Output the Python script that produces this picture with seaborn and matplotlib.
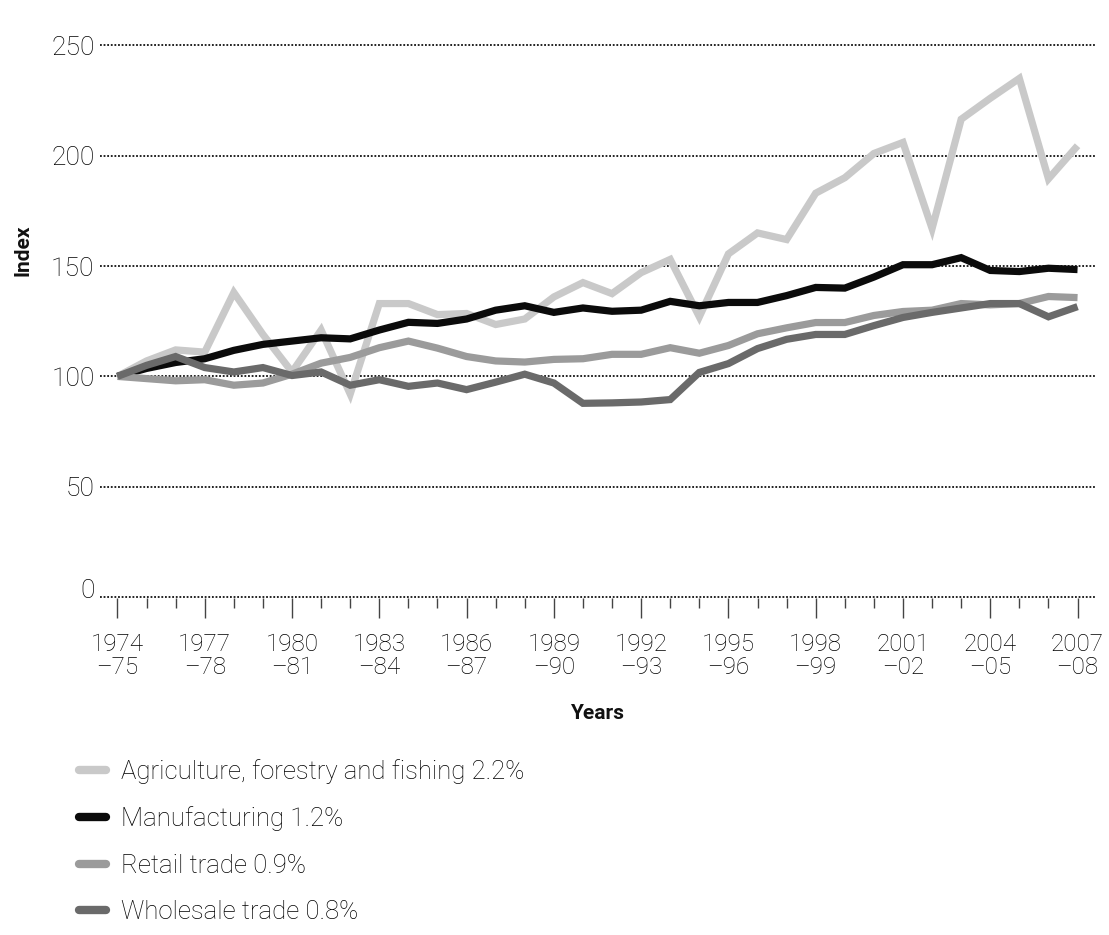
import numpy as np
import pandas as pd
import matplotlib
matplotlib.use("Agg")
import matplotlib.pyplot as plt
import matplotlib.transforms as mtransforms
from matplotlib.lines import Line2D
import seaborn as sns

years = list(range(1974, 2008))
year_labels = [f"{y}\n\u2013{str(y + 1)[-2:]}" for y in years]

agriculture = [100, 107, 112, 111, 138, 119, 102, 121, 92, 133, 133, 128,
               128.5, 123.5, 126, 136, 142.5, 137.5, 147, 153, 127, 155.5,
               165, 162, 183, 190, 201, 206, 167, 216.5, 226, 235, 189.5, 204.5]
manufacturing = [100, 103.6, 106.3, 108, 111.8, 114.5, 116, 117.5, 117, 121, 124.5, 124,
                 126, 130, 132, 129, 131, 129.5, 130, 134, 132, 133.5,
                 133.5, 136.6, 140.3, 140, 145, 150.6, 150.6, 153.8, 148, 147.5, 149, 148.4]
retail = [100, 99, 98, 98.5, 96, 97, 101, 106, 108.6, 113, 116, 112.8,
          109, 107, 106.5, 107.7, 108, 110, 110, 113, 110.5, 114,
          119.3, 122, 124.4, 124.4, 127.6, 129.4, 130, 133, 132.4, 133, 136.2, 135.7]
wholesale = [100, 105, 109, 104, 102, 104, 100.4, 102, 96, 98.5, 95.5, 97,
             94, 97.4, 101, 97, 87.8, 88, 88.4, 89.5, 101.8, 105.8,
             112.6, 116.8, 119, 119, 123, 126.7, 129, 131, 133, 133, 127, 131.6]

series_names = ["Agriculture, forestry and fishing 2.2%", "Manufacturing 1.2%",
                "Retail trade 0.9%", "Wholesale trade 0.8%"]
series_values = [agriculture, manufacturing, retail, wholesale]
colors = ["#c9c9c9", "#0b0b0b", "#9b9b9b", "#6a6a6a"]
y_ticks = [0, 50, 100, 150, 200, 250]

df = pd.concat([pd.DataFrame({"Year": years, "Index": vals, "Series": name})
                for name, vals in zip(series_names, series_values)], ignore_index=True)

sns.set_theme(style="white")
font_list = ["Roboto", "DejaVu Sans"]
plt.rcParams["font.family"] = font_list

fig = plt.figure(figsize=(11.09, 9.35), dpi=100)
ax = fig.add_axes([100 / 1109, 1 - 598 / 935, (1095 - 100) / 1109, (598 - 42) / 935])

palette = dict(zip(series_names, colors))
sns.lineplot(data=df, x="Year", y="Index", hue="Series", palette=palette,
             hue_order=series_names, linewidth=5.2, ax=ax, legend=False,
             solid_capstyle="butt", solid_joinstyle="miter")

ax.set_xlim(1973.4, 2007.6)
ax.set_ylim(-0.4, 251.5)

for s in ax.spines.values():
    s.set_visible(False)

ax.set_yticks(y_ticks)
ax.set_yticklabels([str(v) for v in y_ticks], fontsize=19, color="#000000",
                   fontweight="light")
ax.tick_params(axis="y", length=0, pad=4)
for v in y_ticks:
    ax.axhline(v, color="#111111", linestyle=(0, (1.0, 1.0)), linewidth=1.3, zorder=0.5)

ax.set_xticks(years[::3])
ax.set_xticklabels(year_labels[::3], fontsize=17.5, color="#000000", linespacing=0.97,
                   fontweight="light")
ax.set_xticks(years, minor=True)
ax.tick_params(axis="x", which="major", direction="out", length=14.5, width=1.0,
               color="#444444", bottom=True, pad=11)
ax.tick_params(axis="x", which="minor", direction="out", length=7.5, width=1.0,
               color="#444444", bottom=True)

# shift the "0" label slightly upward as in the reference
lab0 = ax.get_yticklabels()[0]
lab0.set_transform(lab0.get_transform() +
                   mtransforms.ScaledTranslation(0, 9 / 100, fig.dpi_scale_trans))

ax.set_xlabel("Years", fontsize=15, fontweight="bold", color="#111111", labelpad=18)
ax.set_ylabel("Index", fontsize=15, fontweight="bold", color="#111111")
ax.yaxis.set_label_coords(-0.068, 0.625)

handles = [Line2D([0], [0], color=c, linewidth=6, solid_capstyle="round") for c in colors]
fig.legend(handles, series_names, loc="upper left", bbox_to_anchor=(0.062, 0.1995),
           frameon=False, prop={"size": 18.5, "weight": "light"}, handlelength=1.05,
           handletextpad=0.58, labelspacing=0.88, borderaxespad=0, labelcolor="#000000")

fig.savefig("out.png", dpi=100, facecolor="white")
